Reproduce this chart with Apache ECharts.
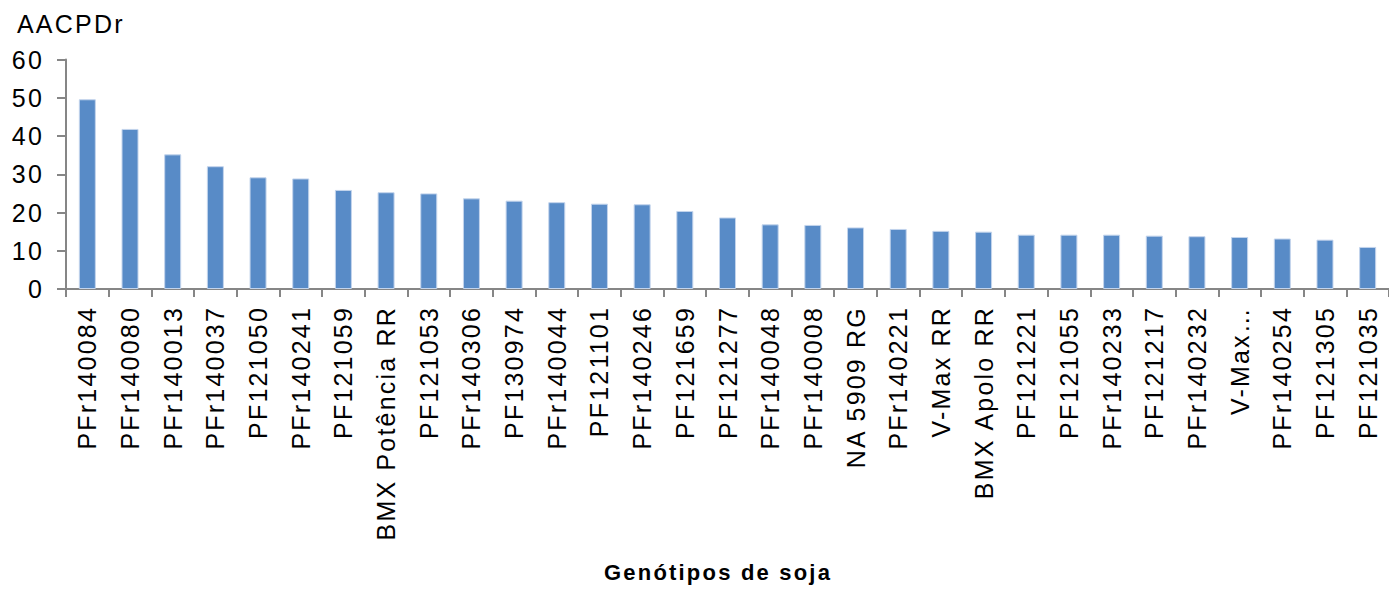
<!DOCTYPE html>
<html>
<head>
<meta charset="utf-8">
<script src="https://cdn.jsdelivr.net/npm/echarts@6/dist/echarts.min.js"></script>
<style>
  html, body { margin: 0; padding: 0; background: #fff; }
  #chart { width: 1389px; height: 589px; }
  /* the typeface used here is set wide, so open the tracking a little */
  #chart text { letter-spacing: 2.2px; }
</style>
</head>
<body>
<div id="chart"></div>
<script>
// Soybean genotypes, ordered by AACPDr
const genotypes = [
  'PFr140084', 'PFr140080', 'PFr140013', 'PFr140037', 'PF121050', 'PFr140241',
  'PF121059', 'BMX Potência RR', 'PF121053', 'PFr140306', 'PF130974', 'PFr140044',
  'PF121101', 'PFr140246', 'PF121659', 'PF121277', 'PFr140048', 'PFr140008',
  'NA 5909 RG', 'PFr140221', 'V-Max RR', 'BMX Apolo RR', 'PF121221', 'PF121055',
  'PFr140233', 'PF121217', 'PFr140232', 'V-Max…', 'PFr140254', 'PF121305', 'PF121035'
];

const aacpdr = [
  49.6, 41.85, 35.2, 32.1, 29.2, 28.9,
  25.9, 25.3, 25.0, 23.7, 23.1, 22.7,
  22.3, 22.15, 20.4, 18.7, 16.9, 16.75,
  16.1, 15.7, 15.2, 15.0, 14.2, 14.2,
  14.2, 13.95, 13.8, 13.6, 13.2, 12.9, 11.0
];

const yAxisTitle = 'AACPDr';
const xAxisTitle = 'Genótipos de soja';

const FONT = '"Liberation Sans", Arial, sans-serif';
const AXIS_GREY = '#868686';

const chart = echarts.init(document.getElementById('chart'), null, { renderer: 'svg' });

chart.setOption({
  animation: false,
  backgroundColor: '#ffffff',
  title: [
    {
      text: yAxisTitle,
      left: 17,
      top: 11,
      padding: 0,
      textStyle: { fontFamily: FONT, fontSize: 25, fontWeight: 'normal', color: '#000' }
    },
    {
      text: xAxisTitle,
      left: 604,
      top: 561,
      padding: 0,
      textStyle: { fontFamily: FONT, fontSize: 22, fontWeight: 'bold', color: '#000' }
    }
  ],
  grid: {
    left: 66,
    top: 59.5,
    width: 1325,
    height: 229.5,
    containLabel: false
  },
  xAxis: {
    type: 'category',
    data: genotypes,
    boundaryGap: true,
    axisLine: { lineStyle: { color: AXIS_GREY, width: 2 } },
    axisTick: { show: true, length: 8, lineStyle: { color: AXIS_GREY, width: 2 } },
    axisLabel: {
      interval: 0,
      rotate: 90,
      margin: 17,
      fontFamily: FONT,
      fontSize: 25,
      color: '#000'
    },
    splitLine: { show: false }
  },
  yAxis: {
    type: 'value',
    min: 0,
    max: 60,
    interval: 10,
    axisLine: { show: true, lineStyle: { color: AXIS_GREY, width: 2 } },
    axisTick: { show: true, length: 9, lineStyle: { color: AXIS_GREY, width: 2 } },
    axisLabel: {
      margin: 22,
      fontFamily: FONT,
      fontSize: 25,
      color: '#000'
    },
    splitLine: { show: false }
  },
  series: [
    {
      type: 'bar',
      data: aacpdr,
      barWidth: 17,
      itemStyle: {
        color: '#588bc7',
        borderColor: '#c3d4ec',
        borderWidth: 1
      }
    }
  ]
});
</script>
</body>
</html>
